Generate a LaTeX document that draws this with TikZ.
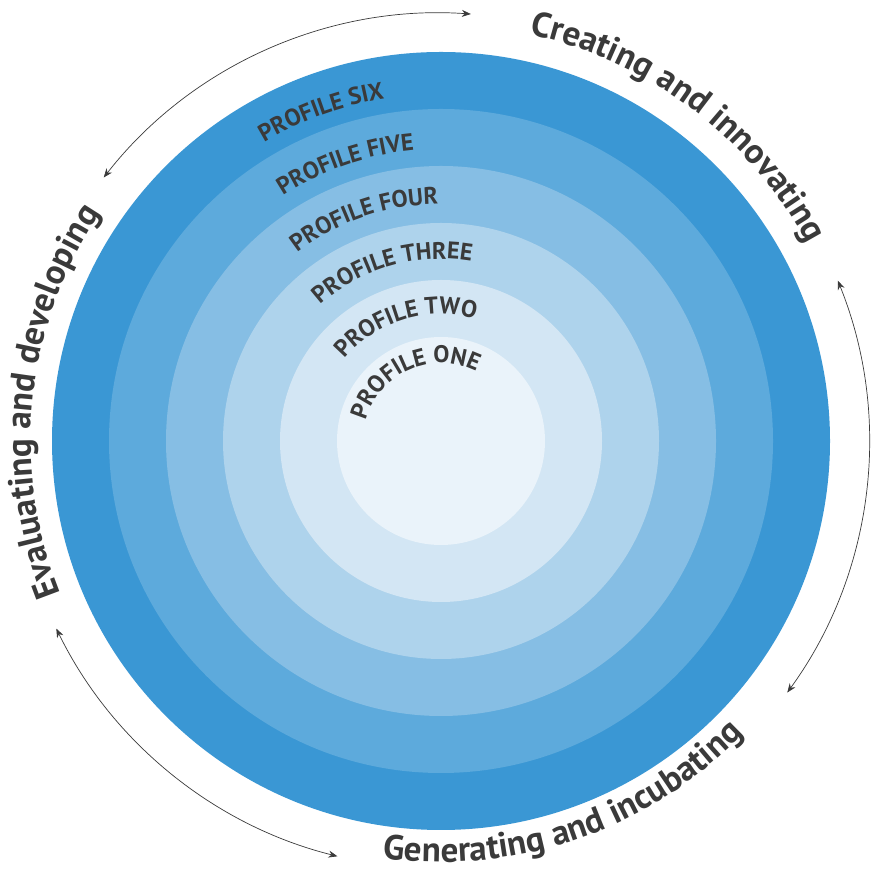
\documentclass[tikz,border=0pt]{standalone}
\usepackage{fontspec}
\setmainfont{PT Sans}
\usetikzlibrary{decorations.text,arrows.meta}
\definecolor{c1}{HTML}{3A97D4}
\definecolor{c2}{HTML}{5DAADC}
\definecolor{c3}{HTML}{86BEE4}
\definecolor{c4}{HTML}{AED3EC}
\definecolor{c5}{HTML}{D3E6F4}
\definecolor{c6}{HTML}{EAF3FA}
\definecolor{tx}{HTML}{3A3A3A}
\tikzset{
 ring/.style={fill=#1,draw=none},
 arr/.style={draw=tx,line width=0.7pt,{Stealth[length=9pt,width=7pt]}-{Stealth[length=9pt,width=7pt]}},
}
\newcommand{\prof}[4]{% mid angle, radius, size, text
 \path[decorate,decoration={text along path,text align=center,
   text={|\fontsize{#3}{#3}\bfseries\color{tx}|#4}}]
   (441pt,431pt) ++(#1+80:#2) arc[start angle=#1+80,end angle=#1-80,radius=#2];}
\newcommand{\profccw}[4]{%
 \path[decorate,decoration={text along path,text align=center,
   text={|\fontsize{#3}{#3}\bfseries\color{tx}|#4}}]
   (441pt,431pt) ++(#1-80:#2) arc[start angle=#1-80,end angle=#1+80,radius=#2];}
\begin{document}
\begin{tikzpicture}[x=1pt,y=1pt]
\useasboundingbox (0,0) rectangle (872,872);
\coordinate (c) at (441,431);
\fill[ring=c1] (c) circle[radius=389];
\fill[ring=c2] (c) circle[radius=332];
\fill[ring=c3] (c) circle[radius=275];
\fill[ring=c4] (c) circle[radius=218];
\fill[ring=c5] (c) circle[radius=161];
\fill[ring=c6] (c) circle[radius=104];
\prof{114}{78pt}{24pt}{PROFILE ONE}
\prof{107}{127pt}{24pt}{PROFILE TWO}
\prof{106}{182pt}{24pt}{PROFILE THREE}
\prof{109}{237pt}{24pt}{PROFILE FOUR}
\prof{109}{292pt}{24pt}{PROFILE FIVE}
\prof{110}{347pt}{24pt}{PROFILE SIX}
\prof{53}{416pt}{35pt}{Creating and innovating}
\prof{174}{410pt}{35pt}{Evaluating and developing}
\profccw{289}{421pt}{35pt}{Generating and incubating}
\draw[arr] (c) ++(142:428) arc[start angle=142,end angle=86,radius=428];
\draw[arr] (c) ++(22:428) arc[start angle=22,end angle=-36,radius=428];
\draw[arr] (c) ++(206:428) arc[start angle=206,end angle=256,radius=428];
\end{tikzpicture}
\end{document}
